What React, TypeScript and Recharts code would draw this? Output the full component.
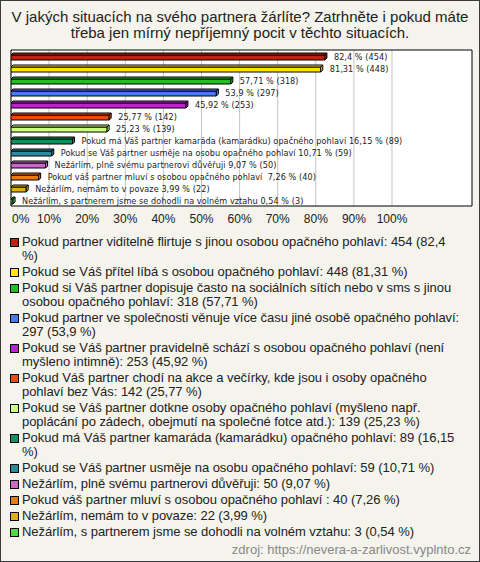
import { BarChart, Bar, XAxis, YAxis, CartesianGrid, ReferenceArea, LabelList } from 'recharts';

const answers = [
  'Pokud partner viditelně flirtuje s jinou osobou opačného pohlaví',
  'Pokud se Váš přítel líbá s osobou opačného pohlaví',
  'Pokud si Váš partner dopisuje často na sociálních sítích nebo v sms s jinou osobou opačného pohlaví',
  'Pokud partner ve společnosti věnuje více času jiné osobě opačného pohlaví',
  'Pokud se Váš partner pravidelně schází s osobou opačného pohlaví (není myšleno intimně)',
  'Pokud Váš partner chodí na akce a večírky, kde jsou i osoby opačného pohlaví bez Vás',
  'Pokud se Váš partner dotkne osoby opačného pohlaví (myšleno např. poplácání po zádech, obejmutí na společné fotce atd.)',
  'Pokud má Váš partner kamaráda (kamarádku) opačného pohlaví',
  'Pokud se Váš partner usměje na osobu opačného pohlaví',
  'Nežárlím, plně svému partnerovi důvěřuji',
  'Pokud váš partner mluví s osobou opačného pohlaví ',
  'Nežárlím, nemám to v povaze',
  'Nežárlím, s partnerem jsme se dohodli na volném vztahu',
];
const counts = [454, 448, 318, 297, 253, 142, 139, 89, 59, 50, 40, 22, 3];
const percents = [82.4, 81.31, 57.71, 53.9, 45.92, 25.77, 25.23, 16.15, 10.71, 9.07, 7.26, 3.99, 0.54];
const colors = [
  '#c42010', '#ffe500', '#22c022', '#4a7af0', '#c020d0', '#f04a10', '#ccff80',
  '#139060', '#2a8aa0', '#cc66cc', '#f07810', '#e0b010', '#40e040',
];
// the short bars carry their answer text next to the value
const nameOnBar = [false, false, false, false, false, false, false, true, true, true, true, true, true];
const xTicks = [0, 10, 20, 30, 40, 50, 60, 70, 80, 90, 100];

const title = [
  'V jakých situacích na svého partnera žárlíte? Zatrhněte i pokud máte',
  'třeba jen mírný nepříjemný pocit v těchto situacích.',
];
const source = 'zdroj: https://nevera-a-zarlivost.vyplnto.cz';

const fmt = (v: number) => String(v).replace('.', ',');

const data = answers.map((name, i) => ({
  name,
  value: percents[i],
  count: counts[i],
  color: colors[i],
}));

const DEPTH = 2;
const FONT = '"Liberation Sans", Arial, sans-serif';

function Bar3D(props: any) {
  const { x, y, width, height, payload } = props;
  const d = DEPTH;
  const w = Math.max(width, 0);
  const fill = payload.color;
  return (
    <g stroke="#000" strokeWidth={1} strokeLinejoin="round">
      <rect x={x} y={y + d} width={w} height={height - d} fill={fill} />
      <polygon points={`${x},${y + d} ${x + d},${y} ${x + w + d},${y} ${x + w},${y + d}`} fill={fill} />
      <polygon
        points={`${x + w},${y + d} ${x + w + d},${y} ${x + w + d},${y + height - d} ${x + w},${y + height}`}
        fill={fill}
      />
    </g>
  );
}

function BarCaption(props: any) {
  const { x, y, width, height, index } = props;
  const i = index as number;
  const text = (nameOnBar[i] ? answers[i] + ' ' : '') + `${fmt(percents[i])} % (${counts[i]})`;
  return (
    <text
      x={x + width + DEPTH + 7}
      y={y + height / 2 + 1}
      dominantBaseline="middle"
      fontSize={9}
      letterSpacing={0.07}
      fontFamily='"Liberation Sans Narrow", "DejaVu Sans Condensed", sans-serif'
      fill="#222"
      style={{ whiteSpace: 'pre' }}
    >
      {text}
    </text>
  );
}

function PercentTick(props: any) {
  const { x, y, payload } = props;
  const v = payload.value as number;
  return (
    <text
      x={v === 0 ? x + 1 : x}
      y={y}
      dy="0.71em"
      textAnchor={v === 0 ? 'start' : 'middle'}
      fontSize={12}
      fontFamily={FONT}
      fill="#222"
    >
      {v}%
    </text>
  );
}

export default function App() {
  return (
    <div
      style={{
        position: 'absolute',
        left: 0,
        top: 0,
        width: 480,
        height: 562,
        boxSizing: 'border-box',
        border: '1px solid #3a3a3a',
        background: '#f4f3ec',
        fontFamily: FONT,
        color: '#222',
      }}
    >
      {/* Title */}
      <div
        style={{
          position: 'absolute',
          top: 8,
          left: 0,
          width: 478,
          textAlign: 'center',
          fontSize: 15,
          lineHeight: '16px',
        }}
      >
        {title.map((line) => (
          <div key={line}>{line}</div>
        ))}
      </div>

      {/* Bar Chart */}
      <div style={{ position: 'absolute', left: 0, top: 0 }}>
        <BarChart
          width={478}
          height={229}
          data={data}
          layout="vertical"
          margin={{ top: 49, right: 7, bottom: 0, left: 10 }}
          barCategoryGap={0}
        >
          <CartesianGrid horizontal={false} stroke="#c4c4c4" fill="#fff" verticalValues={xTicks} />
          <XAxis
            type="number"
            domain={[0, 121]}
            ticks={xTicks}
            axisLine={false}
            tickLine={false}
            height={24}
            tick={<PercentTick />}
            allowDataOverflow
          />
          <YAxis type="category" dataKey="name" hide />
          <ReferenceArea x1={0} x2={121} fill="none" stroke="#000" strokeWidth={1} fillOpacity={0} />
          <Bar dataKey="value" barSize={7} shape={<Bar3D />} isAnimationActive={false}>
            <LabelList dataKey="value" content={<BarCaption />} />
          </Bar>
        </BarChart>
      </div>

      {/* Legend */}
      <div
        style={{
          position: 'absolute',
          top: 234,
          left: 9,
          width: 454,
          fontSize: 13,
          lineHeight: '14px',
          letterSpacing: '-0.05px',
        }}
      >
        {answers.map((name, i) => (
          <div key={i} style={{ display: 'flex', marginBottom: 2 }}>
            <span
              style={{
                flex: '0 0 auto',
                width: 7,
                height: 7,
                marginTop: 3,
                marginRight: 3,
                border: '1px solid #000',
                background: colors[i],
              }}
            />
            <span>{`${name}: ${counts[i]} (${fmt(percents[i])} %)`}</span>
          </div>
        ))}
      </div>

      {/* Source */}
      <div style={{ position: 'absolute', top: 542, right: 8, fontSize: 13, lineHeight: '14px', color: '#888' }}>
        {source}
      </div>
    </div>
  );
}
